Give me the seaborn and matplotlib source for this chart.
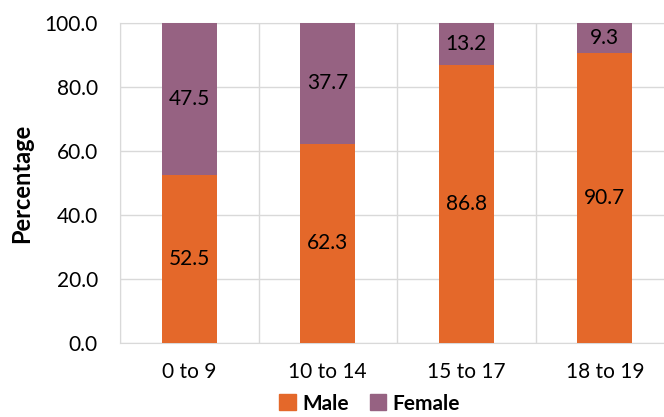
import matplotlib
matplotlib.use("Agg")
import matplotlib.pyplot as plt
import seaborn as sns
import pandas as pd
from matplotlib.patches import Patch

# data
age_groups = ["0 to 9", "10 to 14", "15 to 17", "18 to 19"]
male_pct = [52.5, 62.3, 86.8, 90.7]
female_pct = [47.5, 37.7, 13.2, 9.3]

male_color = "#E4682A"
female_color = "#966282"
grid_color = "#D9D9D9"

df = pd.DataFrame({"group": age_groups, "Male": male_pct, "Female": female_pct})

sns.set_style("white")
plt.rcParams["font.family"] = ["Lato", "DejaVu Sans"]
plt.rcParams["text.color"] = "black"
plt.rcParams["xtick.color"] = "black"
plt.rcParams["ytick.color"] = "black"
plt.rcParams["axes.labelcolor"] = "black"

fig = plt.figure(figsize=(6.64, 4.17), dpi=100)
ax = fig.add_axes([120 / 664, 1 - 343 / 417, 554 / 664, 320 / 417])

sns.barplot(data=df, x="group", y="Male", color=male_color, width=0.4,
            saturation=1, ax=ax, zorder=3, edgecolor="none")
sns.barplot(data=df, x="group", y="Female", color=female_color, width=0.4,
            saturation=1, ax=ax, bottom=df["Male"], zorder=3, edgecolor="none")

# data labels
for i, (m, f) in enumerate(zip(male_pct, female_pct)):
    ax.text(i, m / 2, f"{m:.1f}", ha="center", va="center", fontsize=15, zorder=4)
    ax.text(i, m + f / 2, f"{f:.1f}", ha="center", va="center", fontsize=15, zorder=4)

ax.set_ylim(0, 100)
ax.set_xlim(-0.5, 3.5)
ax.set_yticks(range(0, 101, 20))
ax.set_yticklabels([f"{v:.1f}" for v in range(0, 101, 20)])
ax.set_xticks([x + 0.5 for x in range(-1, 4)], minor=True)
ax.grid(True, axis="y", which="major", color=grid_color, linewidth=1, zorder=0)
ax.grid(True, axis="x", which="minor", color=grid_color, linewidth=1, zorder=0)
ax.tick_params(axis="both", which="both", length=0, labelsize=15)
ax.tick_params(axis="y", pad=16)
ax.tick_params(axis="x", pad=14)
for s in ax.spines.values():
    s.set_color(grid_color)
ax.set_xlabel("")
ax.set_ylabel("Percentage", fontsize=17, fontweight="bold", labelpad=8)

handles = [Patch(color=male_color, label="Male"), Patch(color=female_color, label="Female")]
fig.legend(handles=handles, loc="center", bbox_to_anchor=(0.557, 0.032), ncol=2,
           frameon=False, prop={"size": 15, "weight": "bold"},
           handlelength=0.8, handleheight=0.8, handletextpad=0.3, columnspacing=1.0)

fig.savefig("out.png", dpi=100)
